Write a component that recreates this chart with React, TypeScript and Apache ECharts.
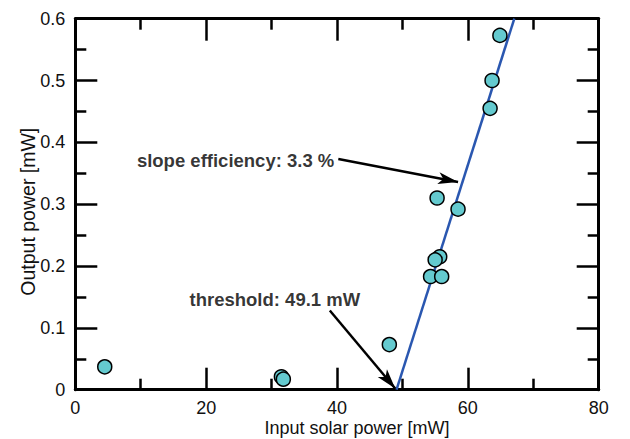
import React, { useEffect, useRef } from "react";
import * as echarts from "echarts";

const inputPower = [4.5, 31.5, 31.8, 48.0, 54.3, 56.0, 55.7, 55.0, 55.3, 58.5, 63.4, 63.7, 64.9];
const outputPower = [0.037, 0.021, 0.017, 0.073, 0.183, 0.183, 0.215, 0.21, 0.31, 0.292, 0.455, 0.5, 0.573];

const fitX = [49.1, 67.1];
const fitY = [0, 0.6];

const annotationTexts = ["slope efficiency: 3.3 %", "threshold: 49.1 mW"];
const annotationX = [24.5, 30.5];
const annotationY = [0.37, 0.146];

const arrowStartX = [40.2, 38.9];
const arrowStartY = [0.373, 0.128];
const arrowEndX = [58.5, 48.9];
const arrowEndY = [0.336, 0.002];

const xTicks = { min: 0, max: 80, interval: 20 };
const yTicks = { min: 0, max: 0.6, interval: 0.1 };

const FONT = "'Liberation Sans', Arial, Helvetica, sans-serif";

export default function App() {
  const ref = useRef<HTMLDivElement>(null);
  useEffect(() => {
    document.body.style.margin = "0";
    if (!ref.current) return;
    const chart = echarts.init(ref.current, undefined, { renderer: "svg" });

    const axisLine = { show: true, onZero: false, lineStyle: { color: "#000", width: 3 } };
    const axisTick = { show: true, inside: true, length: 22, lineStyle: { color: "#000", width: 2.5 } };
    const minorTick = { show: true, splitNumber: 2, length: 11, lineStyle: { color: "#000", width: 2.5 } };

    const option: any = {
      animation: false,
      backgroundColor: "#fff",
      textStyle: { fontFamily: FONT },
      grid: {
        left: 75.3,
        right: 31.3,
        top: 18.7,
        bottom: 49.3,
        containLabel: false,
        outerBoundsMode: "none",
      },
      xAxis: [
        {
          type: "value",
          ...xTicks,
          position: "bottom",
          axisLine,
          axisTick,
          minorTick,
          splitLine: { show: false },
          axisLabel: { color: "#111", fontSize: 18, fontFamily: FONT, margin: 9 },
          name: "Input solar power [mW]",
          nameLocation: "middle",
          nameGap: 29,
          nameMoveOverlap: false,
          nameTextStyle: { color: "#111", fontSize: 18, fontFamily: FONT, verticalAlign: "top", padding: [0, 0, 0, 40] },
        },
        {
          type: "value",
          ...xTicks,
          position: "top",
          axisLine,
          axisTick,
          minorTick,
          splitLine: { show: false },
          axisLabel: { show: false },
        },
      ],
      yAxis: [
        {
          type: "value",
          ...yTicks,
          position: "left",
          axisLine,
          axisTick,
          minorTick,
          splitLine: { show: false },
          axisLabel: { color: "#111", fontSize: 18, fontFamily: FONT, margin: 10 },
          name: "Output power [mW]",
          nameLocation: "middle",
          nameGap: 37,
          nameMoveOverlap: false,
          nameTextStyle: { color: "#111", fontSize: 19.5, fontFamily: FONT, padding: [0, 15, 0, 0] },
        },
        {
          type: "value",
          ...yTicks,
          position: "right",
          axisLine,
          axisTick,
          minorTick,
          splitLine: { show: false },
          axisLabel: { show: false },
        },
      ],
      series: [
        {
          type: "line",
          name: "fit",
          data: fitX.map((x, i) => [x, fitY[i]]),
          showSymbol: false,
          symbol: "none",
          lineStyle: { color: "#2a57b0", width: 2.5 },
          z: 2,
          silent: true,
          markLine: {
            silent: true,
            symbol: ["none", "arrow"],
            symbolSize: [9, 20],
            label: { show: false },
            lineStyle: { color: "#000", width: 2.5, type: "solid" },
            data: arrowStartX.map((x, i) => [
              { coord: [x, arrowStartY[i]] },
              { coord: [arrowEndX[i], arrowEndY[i]] },
            ]),
          },
        },
        {
          type: "scatter",
          name: "data",
          data: inputPower.map((x, i) => [x, outputPower[i]]),
          symbol: "circle",
          symbolSize: 14,
          itemStyle: { color: "#64cacf", borderColor: "#000", borderWidth: 1.5, opacity: 1 },
          z: 3,
        },
        {
          type: "scatter",
          name: "annotations",
          data: annotationTexts.map((t, i) => ({ name: t, value: [annotationX[i], annotationY[i]] })),
          symbolSize: 0,
          silent: true,
          label: {
            show: true,
            position: "inside",
            formatter: (p: any) => p.name,
            color: "#000",
            fontSize: 18.5,
            fontWeight: "bold",
            fontFamily: FONT,
          },
          z: 4,
        },
      ],
    };
    chart.setOption(option);
    return () => chart.dispose();
  }, []);
  return <div ref={ref} style={{ width: 630, height: 439 }} />;
}
